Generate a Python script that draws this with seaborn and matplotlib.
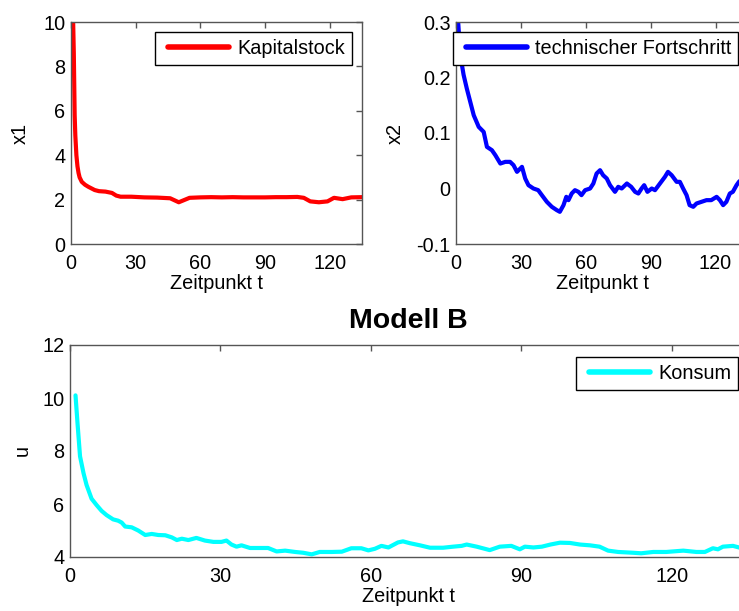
import seaborn as sns
import pandas as pd
import matplotlib
matplotlib.use("Agg")
import matplotlib.pyplot as plt
from matplotlib.legend_handler import HandlerLine2D

# Kapitalstock x1
x1_t = [1, 1.3, 1.7, 2, 2.5, 3, 3.5, 4, 5, 6.5, 8, 11, 13, 16, 19, 21, 23, 28, 34, 40,
        46, 48, 50, 52, 55, 60, 65, 70, 75, 80, 85, 90, 95, 100, 105, 108, 111, 115, 119, 122,
        126, 130, 135]
x1_val = [10.0, 8.6, 5.8, 4.9, 4.0, 3.5, 3.2, 3.0, 2.8, 2.67, 2.58, 2.43, 2.38, 2.36, 2.3, 2.18, 2.13, 2.13, 2.1, 2.09,
          2.06, 1.97, 1.88, 1.96, 2.08, 2.1, 2.11, 2.1, 2.11, 2.1, 2.1, 2.1, 2.11, 2.11, 2.12, 2.08, 1.92, 1.88, 1.92, 2.08,
          2.02, 2.1, 2.11]

# technischer Fortschritt x2
x2_t = [1, 2, 3.5, 5, 6.6, 8.2, 10.5, 12.8, 14.3, 16.6, 18.2, 20.5, 22.8, 25, 26.6, 28.2, 30.5, 32, 33.5, 35.8,
        38, 39.7, 42, 44.3, 46.6, 48, 49.7, 51, 52, 53.5, 55, 56.6, 58, 59.7, 62, 63.5, 65, 66.6, 68, 69.7,
        71.2, 73.5, 75, 76.6, 79, 81, 82.8, 84.3, 85.8, 87, 88.5, 90.5, 92, 94.3, 96.6, 98, 99.7, 102, 103.5, 105,
        106.6, 108, 109.7, 111.2, 113.5, 115.8, 118, 120.5, 122, 123.5, 125, 126.6, 128, 129.7, 130.8, 133, 135]
x2_val = [0.30, 0.24, 0.205, 0.18, 0.156, 0.132, 0.111, 0.102, 0.075, 0.069, 0.06, 0.045, 0.048, 0.048, 0.042, 0.03, 0.039, 0.018, 0.006, 0.0,
          -0.003, -0.012, -0.024, -0.033, -0.039, -0.042, -0.03, -0.015, -0.021, -0.009, -0.003, -0.006, -0.012, -0.003, 0.0, 0.009, 0.027, 0.033, 0.024, 0.018,
          0.006, -0.006, 0.003, 0.0, 0.009, 0.003, -0.006, -0.009, 0.0, 0.006, -0.006, 0.0, -0.003, 0.009, 0.021, 0.03, 0.024, 0.012, 0.012, 0.0,
          -0.012, -0.03, -0.033, -0.027, -0.024, -0.021, -0.021, -0.015, -0.021, -0.03, -0.024, -0.009, -0.006, 0.006, 0.012, 0.02, 0.025]

# Konsum u
u_t = [1.1, 1.5, 2, 2.7, 3.3, 4.3, 5.3, 6.3, 7.3, 8.6, 9.6, 10.3, 11, 12.3, 13.6, 15, 16.3, 17.6, 19, 20.3,
       21.3, 22.3, 23.6, 25.2, 26.9, 28.6, 30.2, 31.2, 32.2, 33.2, 34.2, 35.9, 37.5, 39.5, 41.2, 42.9, 44.9, 46.5, 48.2, 49.8,
       52.2, 54.2, 56.1, 58.1, 59.5, 60.8, 62.1, 63.5, 65.4, 66.4, 67.8, 69.8, 71.8, 74.4, 76.4, 78.1, 79.1, 81.1, 83.7, 85.7,
       88, 89.7, 90.7, 92.4, 94.1, 95.8, 97.7, 99.7, 101.7, 103.7, 105.6, 107.3, 109.3, 112.3, 113.9, 116.3, 118.9, 122.3, 124.9, 126.6,
       128.2, 129.2, 130.2, 132.2, 133.4, 135]
u_val = [10.1, 9.04, 7.8, 7.16, 6.72, 6.2, 5.96, 5.74, 5.58, 5.42, 5.37, 5.3, 5.15, 5.12, 5.0, 4.83, 4.87, 4.83, 4.82, 4.74,
         4.64, 4.69, 4.64, 4.72, 4.62, 4.57, 4.57, 4.62, 4.47, 4.39, 4.44, 4.34, 4.34, 4.34, 4.21, 4.24, 4.19, 4.16, 4.1, 4.19,
         4.19, 4.2, 4.33, 4.33, 4.25, 4.31, 4.42, 4.36, 4.55, 4.59, 4.52, 4.44, 4.35, 4.35, 4.39, 4.42, 4.47, 4.39, 4.26, 4.39,
         4.42, 4.29, 4.39, 4.36, 4.39, 4.47, 4.54, 4.53, 4.47, 4.44, 4.39, 4.24, 4.19, 4.16, 4.14, 4.19, 4.19, 4.24, 4.19, 4.19,
         4.33, 4.29, 4.39, 4.42, 4.36, 4.3]

x_ticks = [0, 30, 60, 90, 120]

sns.set_style("white")
plt.rcParams['font.family'] = ['Liberation Sans', 'DejaVu Sans']
plt.rcParams['text.color'] = 'black'
plt.rcParams['axes.labelcolor'] = 'black'
fs = 14.3
spine_col = '#555555'

fig = plt.figure(figsize=(7.39, 6.11), dpi=100)
W, H = 739, 611


def px_axes(left, top, right, bottom):
    return fig.add_axes([left / W, (H - bottom) / H, (right - left) / W, (bottom - top) / H])


ax1 = px_axes(71, 22, 362, 244)
ax2 = px_axes(456, 22, 748, 244)
ax3 = px_axes(70, 345, 747, 557)

df1 = pd.DataFrame({'t': x1_t, 'x1': x1_val})
df2 = pd.DataFrame({'t': x2_t, 'x2': x2_val})
df3 = pd.DataFrame({'t': u_t, 'u': u_val})

sns.lineplot(data=df1, x='t', y='x1', ax=ax1, color='#ff0000', linewidth=3, label='Kapitalstock')
sns.lineplot(data=df2, x='t', y='x2', ax=ax2, color='#0000ff', linewidth=3, label='technischer Fortschritt')
sns.lineplot(data=df3, x='t', y='u', ax=ax3, color='#00ffff', linewidth=3, label='Konsum')

setup = [
    (ax1, 'x1', (0, 10), [0, 2, 4, 6, 8, 10], None, (0.966, 0.955), 10),
    (ax2, 'x2', (-0.1, 0.3), [-0.1, 0, 0.1, 0.2, 0.3], ['-0.1', '0', '0.1', '0.2', '0.3'], (0.967, 0.955), 8),
    (ax3, 'u', (4, 12), [4, 6, 8, 10, 12], None, (0.987, 0.943), 7.5),
]
for ax, ylab, ylim, yticks, ylabels, anchor, lpad in setup:
    ax.set_xlim(0, 135)
    ax.set_ylim(*ylim)
    ax.set_xticks(x_ticks)
    ax.set_yticks(yticks)
    if ylabels:
        ax.set_yticklabels(ylabels)
    ax.set_xlabel('Zeitpunkt t', fontsize=fs, labelpad=1)
    ax.set_ylabel(ylab, fontsize=fs, labelpad=lpad)
    for s in ax.spines.values():
        s.set_visible(True)
        s.set_color(spine_col)
        s.set_linewidth(1)
    ax.tick_params(direction='in', length=4, width=1, color=spine_col, labelsize=fs,
                   top=True, right=True, labelcolor='black')
    ax.tick_params(axis='x', pad=7)
    ax.tick_params(axis='y', pad=4)
    leg = ax.legend(loc='upper right', bbox_to_anchor=anchor, borderaxespad=0, fontsize=fs,
                    fancybox=False, framealpha=1, edgecolor='black', handlelength=3.4,
                    handletextpad=0.4, borderpad=0.35,
                    handler_map={plt.Line2D: HandlerLine2D(xpad=0.3)})
    leg.get_frame().set_linewidth(1)
    for line in leg.get_lines():
        line.set_linewidth(4)

ax3.set_title('Modell B', fontsize=20.5, fontweight='bold', pad=12, color='black')

fig.savefig('out.png', dpi=100)
